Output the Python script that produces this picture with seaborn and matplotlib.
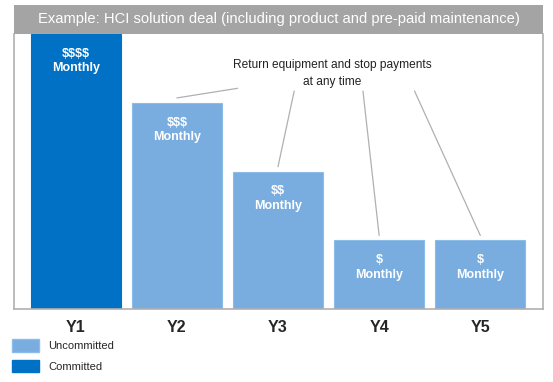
import numpy as np
import pandas as pd
import seaborn as sns
import matplotlib.pyplot as plt
from matplotlib.patches import Patch

# chart data
years = ["Y1", "Y2", "Y3", "Y4", "Y5"]
payments = [4, 3, 2, 1, 1]
status = ["Committed", "Uncommitted", "Uncommitted", "Uncommitted", "Uncommitted"]
bar_labels = ["$$$$\nMonthly", "$$$\nMonthly", "$$\nMonthly", "$\nMonthly", "$\nMonthly"]

title = "Example: HCI solution deal (including product and pre-paid maintenance)"
note = "Return equipment and stop payments\nat any time"
note_years = ["Y2", "Y3", "Y4", "Y5"]
note_line_starts = [1.60, 2.16, 2.84, 3.35]  # where each leader leaves the note (x, data units)

DARK = "#0171c5"
LIGHT = "#79addf"
palette = {"Committed": DARK, "Uncommitted": LIGHT}

sns.set_style("white")
plt.rcParams["font.family"] = ["Liberation Sans", "DejaVu Sans"]
plt.rcParams["text.parse_math"] = False  # dollar signs are literal here

df = pd.DataFrame({"year": years, "value": payments, "status": status})

fig = plt.figure(figsize=(5.53, 3.82), dpi=100)
ax = fig.add_axes([14 / 553, 1 - 309 / 382, 529 / 553, 275 / 382])

sns.barplot(data=df, x="year", y="value", hue="status", palette=palette,
            dodge=False, width=0.89, saturation=1, legend=False, ax=ax)
for bar, st in zip(ax.patches, df["status"]):
    bar.set_edgecolor("#8cbde9" if st == "Uncommitted" else DARK)
    bar.set_linewidth(0.8)

ax.set_xlim(-0.61, 4.62)
ax.set_ylim(0, 4)
ax.set_xlabel("")
ax.set_ylabel("")
ax.set_yticks([])
ax.tick_params(axis="x", length=0, pad=8, labelsize=11.5)
for t in ax.get_xticklabels():
    t.set_fontweight("bold")
for s in ["left", "right", "bottom"]:
    ax.spines[s].set_color("#b0b0b0")
    ax.spines[s].set_linewidth(1.2)
ax.spines["top"].set_visible(False)

# labels inside bars
for i, (v, lab) in enumerate(zip(payments, bar_labels)):
    ax.text(i, v - 0.2, lab, ha="center", va="top", color="white",
            fontsize=9, fontweight="bold", linespacing=1.3)

# note with leader lines
ax.text(2.54, 3.42, note, ha="center", va="center", fontsize=8.6, color="#222222",
        linespacing=1.55)
for yr, xs in zip(note_years, note_line_starts):
    i = years.index(yr)
    y0 = 3.21 if yr == "Y2" else 3.17
    ax.plot([xs, i], [y0, payments[i] + 0.07], color="#b0b0b0", lw=0.9)

# title bar
tax = fig.add_axes([14 / 553, 1 - 34 / 382, 529 / 553, 29 / 382])
tax.set_facecolor("#a4a4a4")
tax.set_xticks([])
tax.set_yticks([])
for s in tax.spines.values():
    s.set_visible(False)
tax.text(0.5, 0.5, title, ha="center", va="center", color="white", fontsize=10.6,
         transform=tax.transAxes)

# legend
handles = [Patch(facecolor=LIGHT, edgecolor="#8cbde9", label="Uncommitted"),
           Patch(facecolor=DARK, edgecolor=DARK, label="Committed")]
fig.legend(handles=handles, loc="upper left", bbox_to_anchor=(8 / 553, 1 - 335 / 382),
           frameon=False, fontsize=8, handlelength=2.4, handleheight=1.3,
           labelspacing=0.75, handletextpad=0.8, borderaxespad=0)

fig.savefig("out.png", dpi=100)
